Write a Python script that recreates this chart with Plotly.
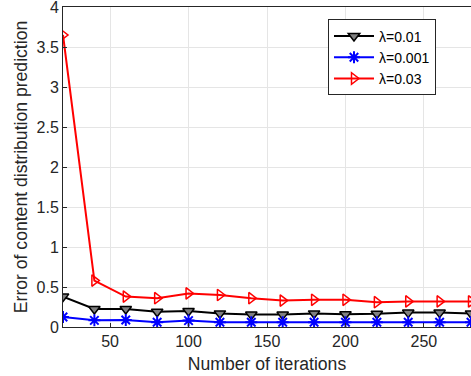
import plotly.graph_objects as go

iterations = [20, 40, 60, 80, 100, 120, 140, 160, 180, 200, 220, 240, 260, 280]
err_001 = [0.38, 0.225, 0.225, 0.19, 0.20, 0.17, 0.155, 0.155, 0.17, 0.16, 0.165, 0.18, 0.18, 0.17]
err_0001 = [0.125, 0.083, 0.088, 0.06, 0.08, 0.06, 0.06, 0.06, 0.06, 0.06, 0.06, 0.06, 0.06, 0.06]
err_003 = [3.65, 0.58, 0.38, 0.36, 0.42, 0.40, 0.36, 0.33, 0.34, 0.34, 0.31, 0.32, 0.32, 0.32]
x_ticks = [50, 100, 150, 200, 250]
y_ticks = [0, 0.5, 1, 1.5, 2, 2.5, 3, 3.5, 4]
y_tick_labels = ["0", "0.5", "1", "1.5", "2", "2.5", "3", "3.5", "4"]

FONT = "Liberation Sans, Arial, sans-serif"
fig = go.Figure()
fig.add_trace(go.Scatter(x=iterations, y=err_001, name="λ=0.01", mode="lines+markers",
                         line=dict(color="black", width=2),
                         marker=dict(symbol="triangle-down", size=10, color="#808080",
                                     line=dict(color="black", width=1.5))))
fig.add_trace(go.Scatter(x=iterations, y=err_0001, name="λ=0.001", mode="lines+markers",
                         line=dict(color="blue", width=2),
                         marker=dict(symbol="asterisk-open", size=10, color="blue",
                                     line=dict(color="blue", width=2))))
fig.add_trace(go.Scatter(x=iterations, y=err_003, name="λ=0.03", mode="lines+markers",
                         line=dict(color="red", width=2),
                         marker=dict(symbol="triangle-right-open", size=10, color="red",
                                     line=dict(color="red", width=1.5))))

axis_common = dict(showline=True, linecolor="#262626", linewidth=1, mirror=True,
                   ticks="inside", ticklen=4, tickcolor="#262626", automargin=False,
                   ticklabeloverflow="allow",
                   showgrid=True, gridcolor="#e5e5e5", gridwidth=1, zeroline=False,
                   tickfont=dict(family=FONT, size=16, color="#262626"))

fig.update_xaxes(range=[20, 280], tickmode="array", tickvals=x_ticks,
                 title=dict(text="Number of iterations", standoff=8,
                            font=dict(family=FONT, size=17.6, color="#262626")),
                 **axis_common)
fig.update_yaxes(range=[0, 4], tickmode="array", tickvals=y_ticks, ticktext=y_tick_labels,
                 title=dict(text="Error of content distribution prediction", standoff=4,
                            font=dict(family=FONT, size=17.6, color="#262626")),
                 **axis_common)

fig.update_layout(width=471, height=376, margin=dict(l=63, r=0, t=7, b=49, autoexpand=False),
                  plot_bgcolor="white", paper_bgcolor="white",
                  legend=dict(x=0.6495, y=0.961, xanchor="left", yanchor="top",
                              bgcolor="white", bordercolor="#262626", borderwidth=1,
                              font=dict(family=FONT, size=14, color="black"),
                              tracegroupgap=0, itemwidth=40))
fig.write_html("out.html", config={"displayModeBar": False},
               post_script="document.body.style.margin='0';document.body.style.overflow='hidden';")
